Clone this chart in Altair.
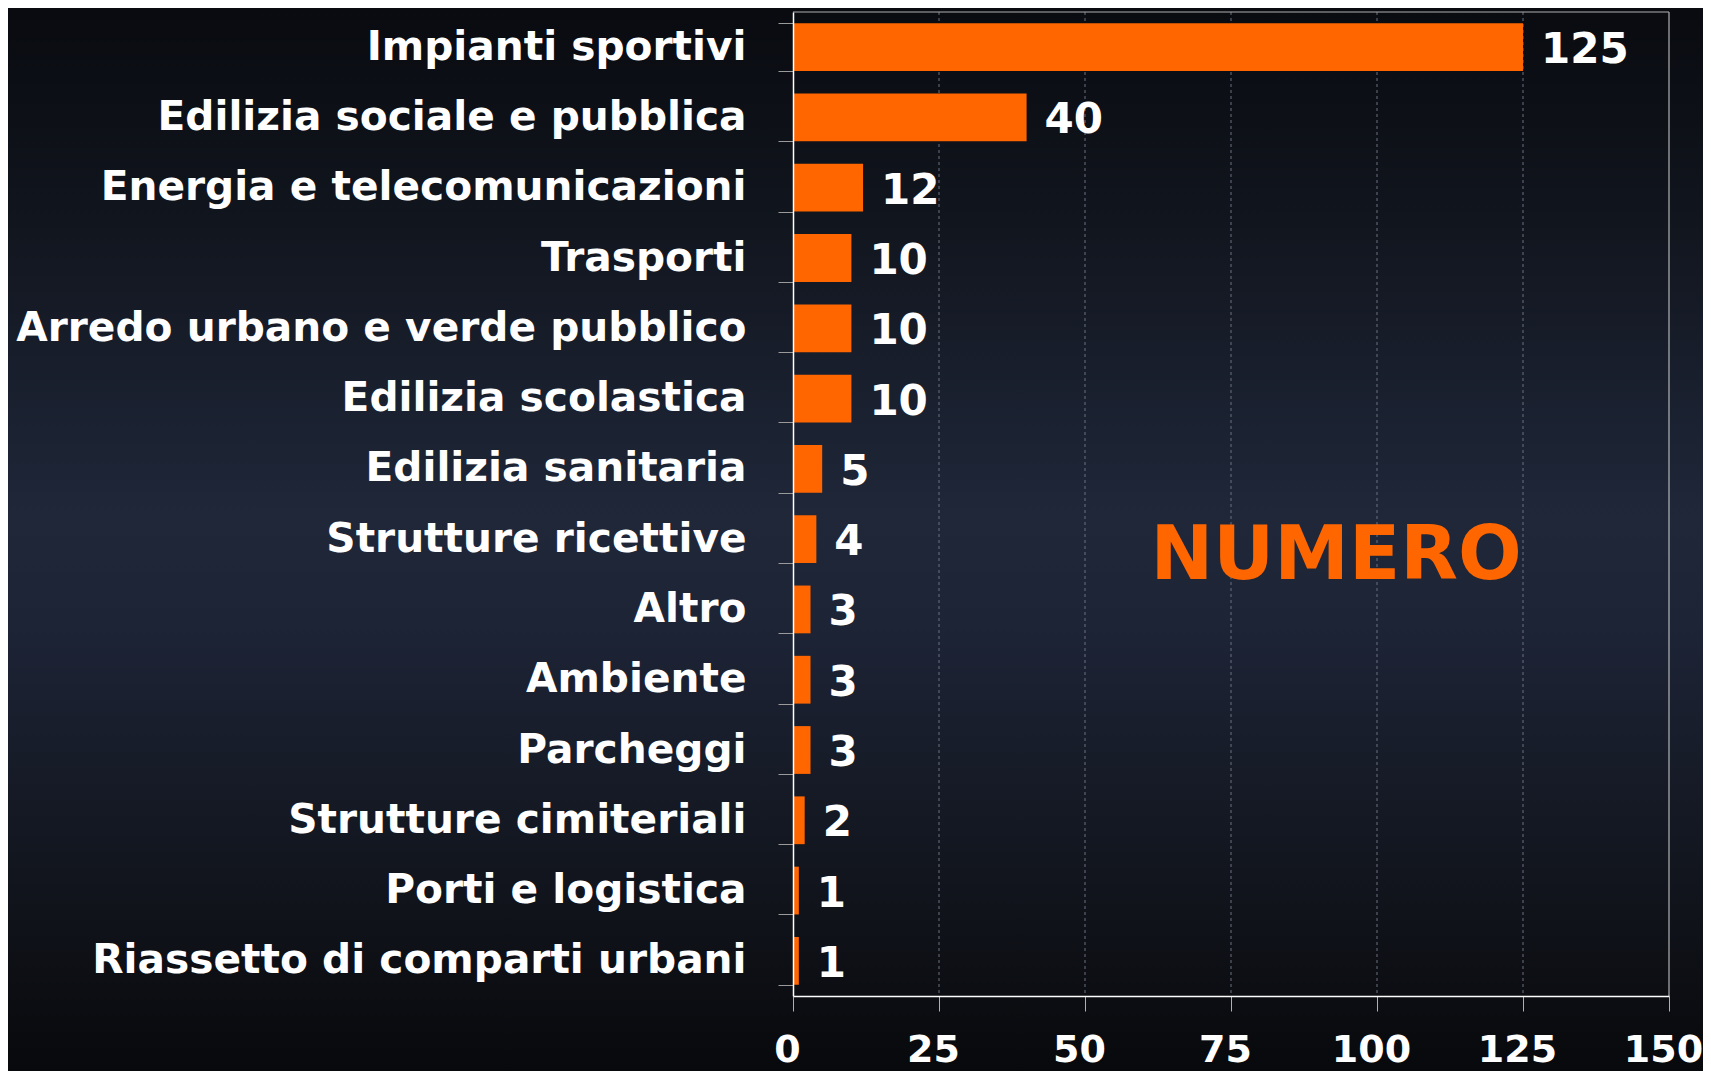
import altair as alt
import pandas as pd

categories = [
    "Impianti sportivi",
    "Edilizia sociale e pubblica",
    "Energia e telecomunicazioni",
    "Trasporti",
    "Arredo urbano e verde pubblico",
    "Edilizia scolastica",
    "Edilizia sanitaria",
    "Strutture ricettive",
    "Altro",
    "Ambiente",
    "Parcheggi",
    "Strutture cimiteriali",
    "Porti e logistica",
    "Riassetto di comparti urbani",
]
values = [125, 40, 12, 10, 10, 10, 5, 4, 3, 3, 3, 2, 1, 1]
x_ticks = [0, 25, 50, 75, 100, 125, 150]
grid_ticks = [25, 50, 75, 100, 125]
annotation = "NUMERO"

W, H = 876, 984
PAD = {"left": 785, "top": 4, "right": 34, "bottom": 75}
FONT = "DejaVu Sans"
ORANGE = "#FF6600"

df = pd.DataFrame({"cat": categories, "val": values})
grid_df = pd.DataFrame({"g": grid_ticks})

x_scale = alt.Scale(domain=[0, 150], nice=False, zero=True)
y_scale = alt.Scale(domain=categories, paddingInner=0.32, paddingOuter=0.16)

bg = alt.Chart(pd.DataFrame({"k": [0]})).mark_rect(
    fill=alt.Gradient(
        gradient="linear",
        x1=0, x2=0, y1=0, y2=1,
        stops=[
            alt.GradientStop(offset=0.0, color="#090b10"),
            alt.GradientStop(offset=0.18, color="#10141c"),
            alt.GradientStop(offset=0.48, color="#1f2739"),
            alt.GradientStop(offset=0.58, color="#1d2436"),
            alt.GradientStop(offset=0.85, color="#10131a"),
            alt.GradientStop(offset=1.0, color="#08090c"),
        ],
    ),
    strokeWidth=0,
).encode(
    x=alt.value(-PAD["left"]),
    x2=alt.value(W + PAD["right"]),
    y=alt.value(-PAD["top"]),
    y2=alt.value(H + PAD["bottom"]),
)

grid = alt.Chart(grid_df).mark_rule(
    color="#6a7080", strokeDash=[3, 3], strokeWidth=1
).encode(x=alt.X("g:Q", scale=x_scale, title=None))

right_border = alt.Chart(pd.DataFrame({"k": [0]})).mark_rule(
    color="#d0d0d0", strokeWidth=1
).encode(x=alt.datum(150, scale=x_scale))

top_border = alt.Chart(pd.DataFrame({"k": [0]})).mark_rule(
    color="#b0b0b0", strokeWidth=1
).encode(y=alt.value(0), x=alt.value(0), x2=alt.value(W))

bars = alt.Chart(df).mark_bar(color=ORANGE).encode(
    x=alt.X(
        "val:Q",
        scale=x_scale,
        title=None,
        axis=alt.Axis(
            values=x_ticks,
            grid=False,
            domainColor="#ffffff",
            domainWidth=1.5,
            tickColor="#b0b0b0",
            tickSize=15,
            labelFont=FONT,
            labelFontSize=38,
            labelFontWeight="bold",
            labelColor="#ffffff",
            labelPadding=20,
            labelOffset=-6,
            labelFlush=False,
            labelOverlap=False,
            zindex=1,
        ),
    ),
    y=alt.Y(
        "cat:N",
        scale=y_scale,
        sort=categories,
        title=None,
        axis=alt.Axis(
            tickBand="extent",
            domainColor="#ffffff",
            domainWidth=1.5,
            tickColor="#9a9a9a",
            tickSize=15,
            labelFont=FONT,
            labelFontSize=40.7,
            labelFontWeight="bold",
            labelColor="#ffffff",
            labelPadding=32,
            labelLimit=900,
            zindex=1,
        ),
    ),
)

labels = alt.Chart(df).mark_text(
    align="left",
    baseline="middle",
    dx=18,
    dy=3,
    font=FONT,
    fontSize=42,
    fontWeight="bold",
    color="#ffffff",
).encode(
    x=alt.X("val:Q", scale=x_scale),
    y=alt.Y("cat:N", scale=y_scale, sort=categories),
    text=alt.Text("val:Q"),
)

note = alt.Chart(pd.DataFrame({"t": [annotation], "x": [93], "c": ["Strutture ricettive"]})).mark_text(
    align="center",
    baseline="middle",
    dy=17,
    font=FONT,
    fontSize=75,
    fontWeight="bold",
    color=ORANGE,
).encode(
    x=alt.X("x:Q", scale=x_scale),
    y=alt.Y("c:N", scale=y_scale, sort=categories),
    text="t:N",
)

chart = (
    alt.layer(bg, grid, right_border, top_border, bars, labels, note)
    .properties(
        width=W,
        height=H,
        padding=PAD,
        autosize=alt.AutoSizeParams(type="none"),
        background="#0b0d12",
    )
    .configure_view(stroke=None, fill=None)
)

chart.save("out.html", embed_options={"renderer": "svg", "actions": False})
